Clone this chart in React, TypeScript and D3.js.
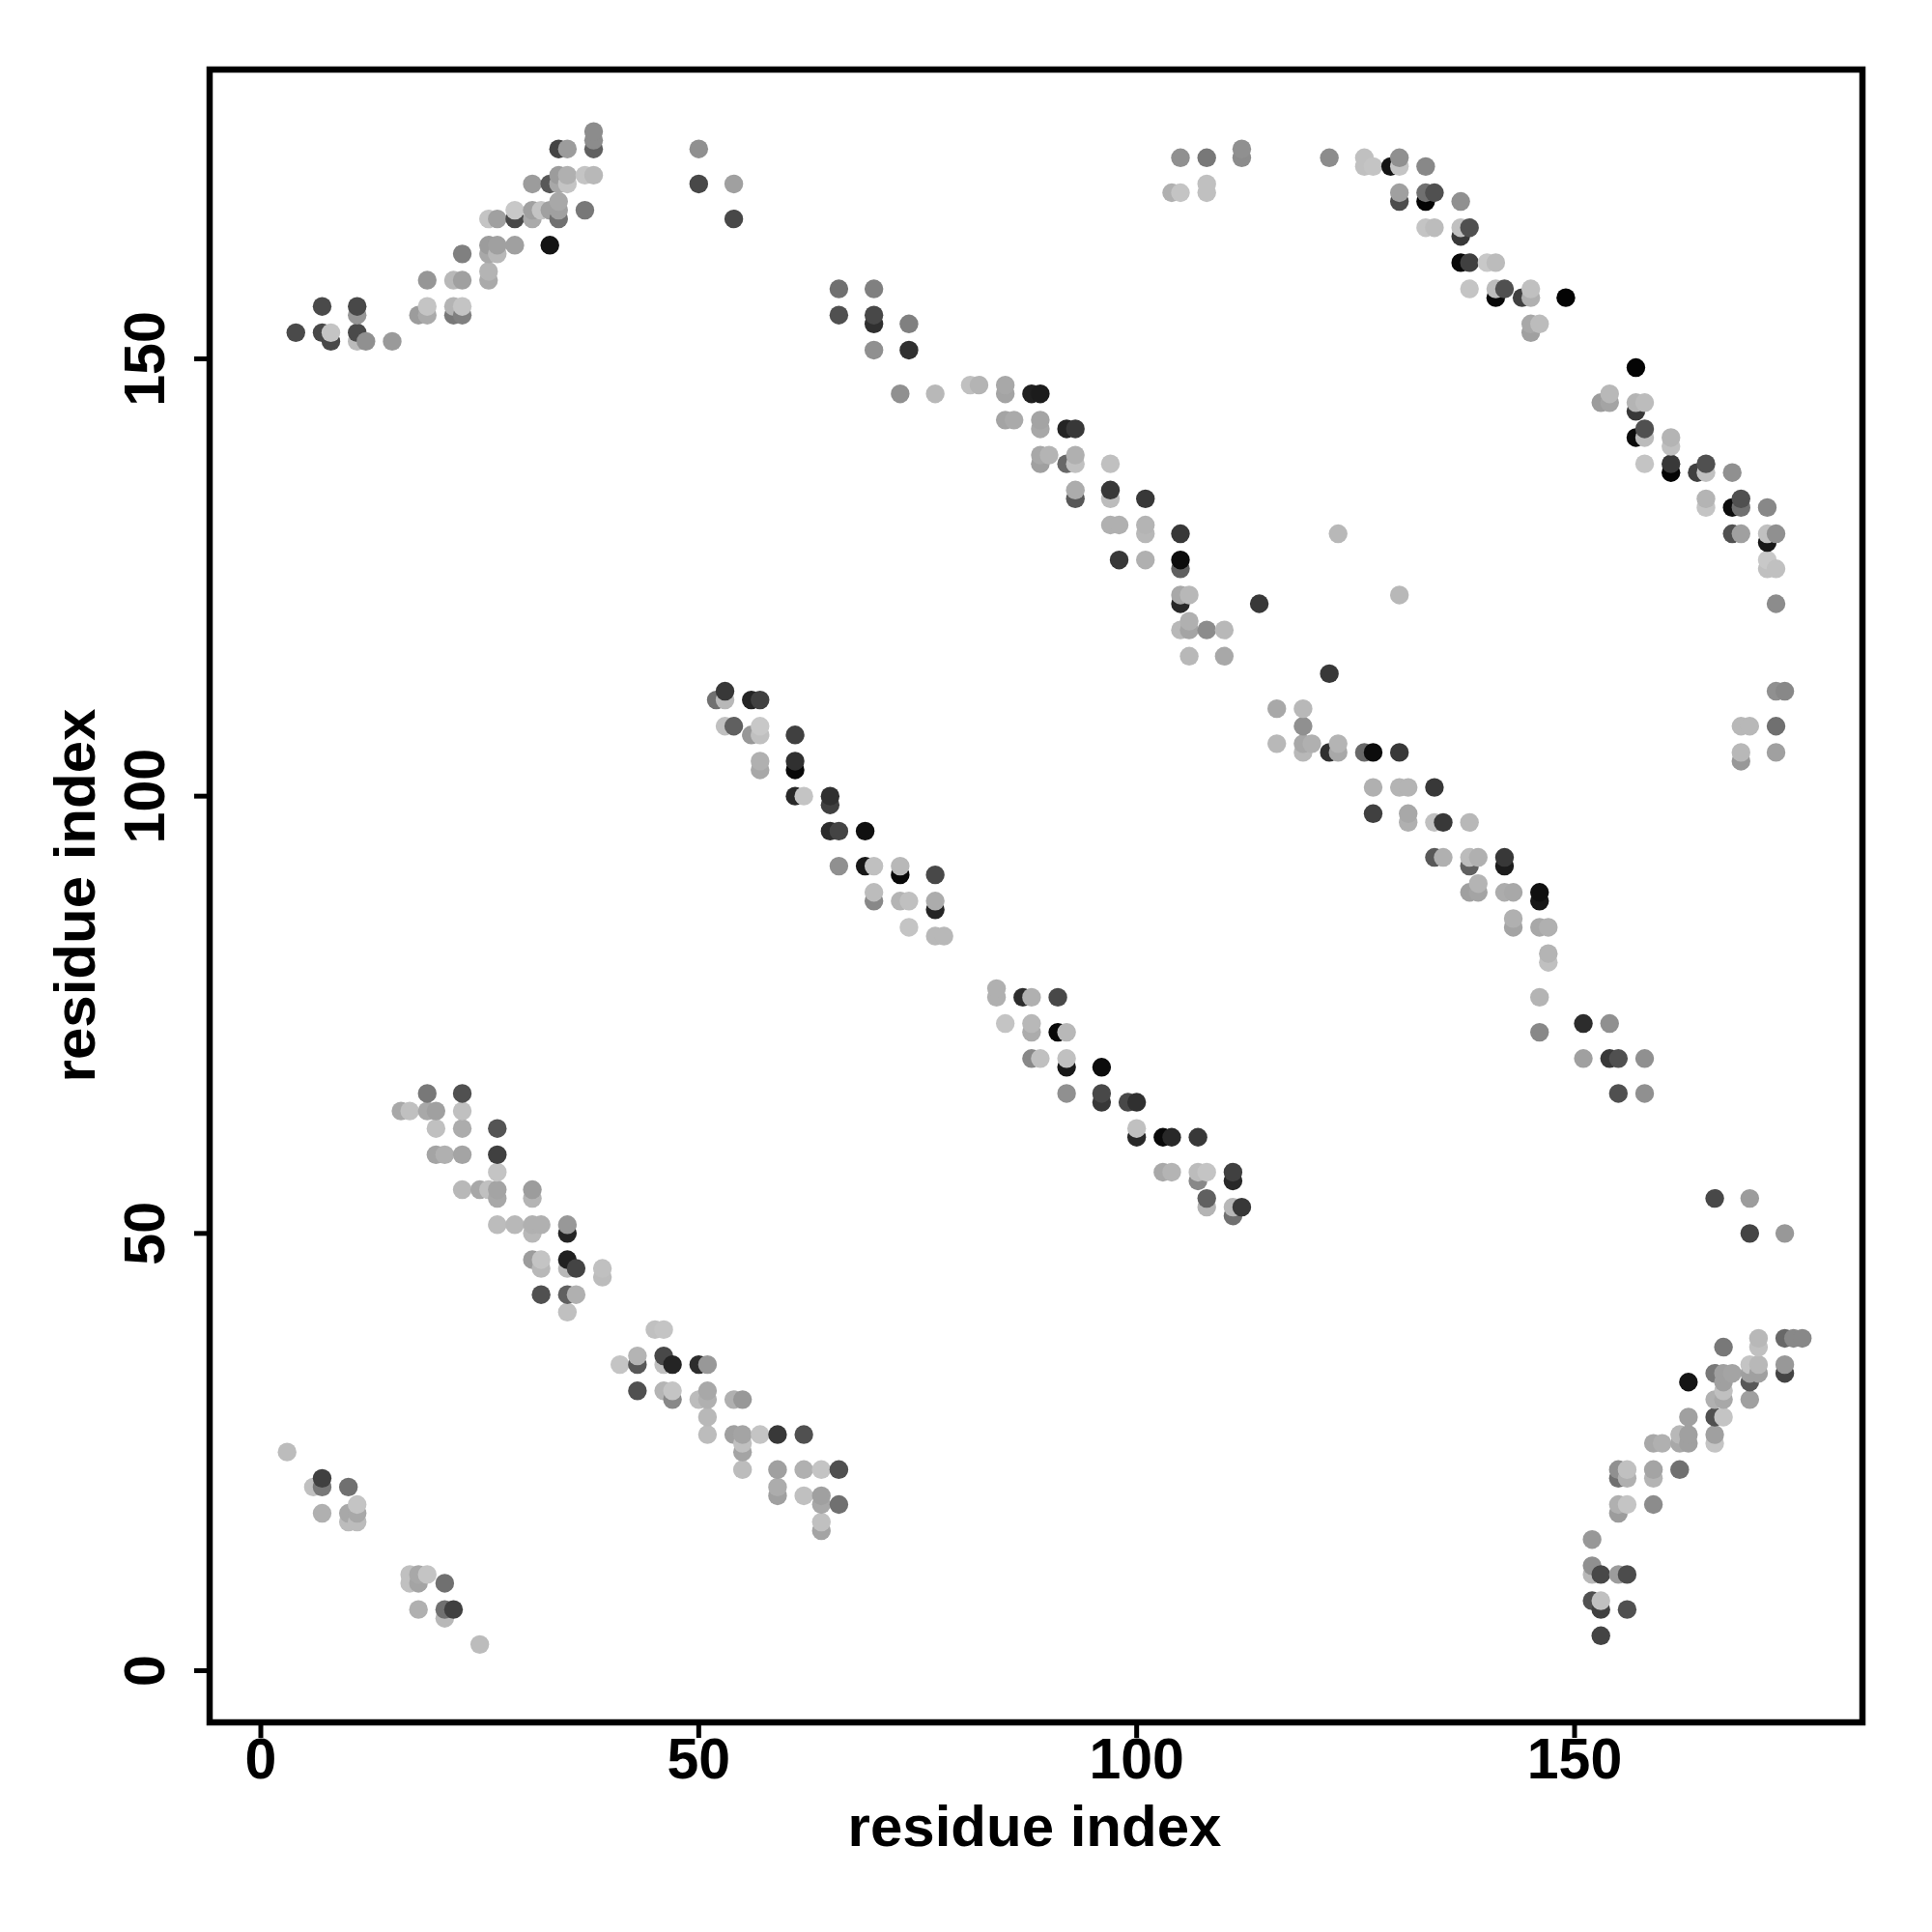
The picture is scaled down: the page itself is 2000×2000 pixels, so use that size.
import React from "react";
import * as d3 from "d3";

// Each contact: [residue i, residue j, grey level]
type Contact = [number, number, number];

const clusterTopLeft: Contact[] = [
  [4,153,0x4a],[7,156,0x4a],[7,153,0x48],[8,152,0x48],[8,153,0xc4],[11,156,0x48],[11,155,0x96],[11,153,0x4a],[11,152,0xbb],[12,152,0x90],[15,152,0x9a],
  [18,155,0x9c],[19,155,0xaa],[19,156,0xc4],[19,159,0x96],[22,159,0xb8],[23,159,0xa0],[22,156,0xb4],[23,156,0xc4],[22,155,0x78],[23,155,0x80],[23,162,0x80],
  [26,159,0xaa],[26,160,0xb4],[26,162,0xa8],[26,163,0x9c],[27,162,0xb8],[27,163,0xa0],[26,166,0xc4],[27,166,0xa0],[29,163,0xa0],[29,166,0x48],[29,167,0xc8],
  [31,167,0xa0],[31,166,0xaa],[32,167,0xc4],[31,170,0x9c],[33,163,0x14],[33,170,0x58],[33,167,0xa0],[34,166,0x70],[34,167,0xa0],[34,168,0xa8],[34,170,0xa8],[34,171,0x9c],
  [34,174,0x44],[35,174,0x9c],[35,171,0xb0],[35,170,0xc4],[37,167,0x78],[37,171,0xc4],[38,171,0xb8],[38,174,0x60],[38,175,0x8c],[38,176,0x8c],
];
const clusterTopMiddle: Contact[] = [
  [50,174,0x90],[50,170,0x48],[54,170,0xa0],[54,166,0x48],
  [66,158,0x70],[66,155,0x50],[70,158,0x80],[70,155,0x48],[70,154,0x30],[70,151,0x90],[74,154,0x80],[74,151,0x30],[73,146,0x90],[77,146,0xb8],
  [104,169,0xb0],[105,169,0xc4],[105,173,0x90],[108,173,0x78],[108,170,0xc0],[108,169,0xc0],[112,174,0x90],[112,173,0x8c],
];
const clusterCentralUpper: Contact[] = [
  [81,147,0xc0],[82,147,0xb4],[85,147,0xa8],[85,146,0xa4],[88,146,0x20],[89,146,0x1c],[85,143,0xa4],[86,143,0xaa],[89,143,0xa4],[89,142,0xa8],[92,142,0x24],[93,142,0x38],
  [89,138,0xa0],[89,139,0xa8],[90,139,0xb4],[92,138,0x68],[93,138,0xc0],[93,139,0xb0],[97,138,0xc0],[93,134,0x58],[93,135,0xac],[97,134,0xbc],[97,135,0x38],[101,134,0x38],
  [97,131,0xb0],[98,131,0xb0],[101,131,0xb4],[101,130,0xb8],[105,130,0x38],[98,127,0x38],[101,127,0xb0],[105,127,0x0c],[105,126,0x60],[105,123,0xa8],[106,123,0xb8],[105,122,0x28],
  [114,122,0x38],[105,119,0xb8],[106,119,0xa4],[106,120,0xb0],[108,119,0x8c],[110,119,0xb8],[106,116,0xb8],[110,116,0xa8],[123,130,0xb8],[130,123,0xb8],
];
const clusterTopRight: Contact[] = [
  [122,173,0x8c],[126,173,0xc0],[126,172,0xc0],[127,172,0xc4],[129,172,0x14],[130,172,0xc4],[130,173,0x90],[133,172,0x88],[130,168,0x4c],[130,169,0xa0],[133,168,0x04],[133,169,0x70],[134,169,0x50],
  [137,168,0x90],[133,165,0xc4],[134,165,0xbc],[137,165,0xc0],[137,164,0x38],[138,165,0x50],[137,161,0x08],[138,161,0x40],[140,161,0xc8],[141,161,0xbc],[138,158,0xc4],[141,158,0xbc],[141,157,0x08],[142,158,0x50],
  [144,157,0x40],[145,157,0xb0],[145,158,0xc0],[149,157,0x04],[145,153,0xa0],[145,154,0xa8],[146,154,0xbc],
  [157,149,0x04],[153,145,0x9c],[154,145,0xa4],[154,146,0xb8],[157,145,0xb4],[158,145,0xbc],[157,144,0x38],[157,141,0x0c],[158,141,0xbc],[158,142,0x50],[161,141,0xb4],[161,140,0xc0],
  [158,138,0xc4],[161,138,0x38],[161,137,0x04],[164,137,0x40],[165,137,0xc0],[165,138,0x50],[168,137,0x90],[165,134,0xb4],[165,133,0xc4],[168,133,0x0c],[169,133,0x70],[169,134,0x50],[172,133,0x88],
  [168,130,0x50],[169,130,0xa0],[172,130,0xc0],[172,129,0x18],[173,130,0x90],[172,127,0xc8],[172,126,0xc0],[173,126,0xc0],[173,122,0x8c],
  [173,112,0x90],[174,112,0x88],[173,108,0x70],[169,108,0xb8],[170,108,0xb8],[169,105,0xb8],[169,104,0x98],[173,105,0xa0],
];
const clusterMiddleLeft: Contact[] = [
  [52,111,0x70],[53,111,0xb8],[53,112,0x38],[56,111,0x24],[57,111,0x40],[53,108,0xc0],[54,108,0x60],[56,107,0x98],[57,107,0xc0],[57,108,0xc8],[61,107,0x40],[57,104,0xb0],[57,103,0xa8],[61,104,0x30],[61,103,0x08],
  [61,100,0x28],[62,100,0xc4],[65,100,0x30],[65,99,0x40],[65,96,0x2c],[66,96,0x44],[69,96,0x10],[66,92,0x90],[69,92,0x18],[70,92,0xc0],[73,92,0xb8],[73,91,0x08],[77,91,0x48],
  [70,89,0xbc],[70,88,0x88],[73,88,0xb4],[74,88,0xc0],[77,88,0xac],[77,87,0x24],[74,85,0xc4],[77,84,0xb8],[78,84,0xb8],
];
const clusterMiddleRight: Contact[] = [
  [122,114,0x38],[116,110,0xa8],[119,110,0xb8],[119,108,0x90],[116,106,0xb8],[119,106,0xa8],[120,106,0xb0],[119,105,0xb8],[122,105,0x30],[123,105,0xa8],[123,106,0xb4],[126,105,0x68],[127,105,0x0c],[130,105,0x38],
  [127,101,0xb0],[130,101,0xb4],[131,101,0xb4],[134,101,0x38],[127,98,0x40],[131,98,0xa8],[131,97,0xb0],[134,97,0xc0],[135,97,0x38],[138,97,0xb8],[134,93,0x58],[135,93,0xb0],[138,93,0xbc],[139,93,0xb0],[138,92,0x60],
  [142,93,0x38],[142,92,0x1c],[138,89,0xa0],[139,89,0xa4],[139,90,0xb4],[142,89,0xac],[143,89,0xa8],[143,86,0xb0],[143,85,0xa4],[146,89,0x10],[146,88,0x18],[146,85,0xa8],[147,85,0xb0],[147,82,0xb4],[147,81,0xc0],
  [146,77,0xb4],[146,73,0x88],[151,74,0x2c],[154,74,0x90],[151,70,0xa0],[154,70,0x38],[155,70,0x50],[155,66,0x50],[158,70,0x90],[158,66,0x90],
];
const clusterCentralLower: Contact[] = [
  [84,78,0xb0],[84,77,0xb0],[87,77,0x2c],[88,77,0xb0],[91,77,0x48],[85,74,0xc4],[88,74,0xb8],[88,73,0xac],[91,73,0x08],[92,73,0xb8],[88,70,0x88],[89,70,0xc0],[92,70,0xc0],[92,69,0x18],[96,69,0x0c],
  [92,66,0x90],[96,66,0x48],[96,65,0x38],[99,65,0x48],[100,65,0x30],[100,62,0xc0],[100,61,0x28],[103,61,0x08],[104,61,0x28],[107,61,0x38],[103,57,0xa8],[104,57,0xb4],[107,57,0xbc],[108,57,0xc4],[107,56,0x88],
  [111,57,0x40],[111,56,0x28],[108,54,0x60],[108,53,0xb4],[111,53,0xb8],[111,52,0x70],[112,53,0x38],
];
const clusterLowerLeft: Contact[] = [
  [19,66,0x78],[23,66,0x50],[16,64,0xa8],[17,64,0xc0],[19,64,0xa8],[20,64,0xa0],[23,64,0xc0],[20,62,0xc0],[23,62,0xac],[27,62,0x54],[20,59,0xa4],[21,59,0xb0],[23,59,0xa4],[27,59,0x40],[27,57,0xc4],
  [23,55,0xb8],[25,55,0xa8],[26,55,0xc0],[27,55,0xa4],[27,54,0xa8],[31,55,0x9c],[31,54,0xb4],[27,51,0xbc],[29,51,0xb8],[31,51,0xb0],[32,51,0xb0],[31,50,0xb8],[35,51,0x98],[35,50,0x24],
  [31,47,0x9c],[32,47,0xc4],[32,46,0xb8],[35,47,0x20],[35,46,0xb8],[36,46,0x44],[39,46,0xc0],[39,45,0xbc],[32,43,0x50],[35,43,0x60],[36,43,0xb0],[35,41,0xc0],
];
const clusterLowerMiddle: Contact[] = [
  [45,39,0xc0],[46,39,0xc4],[41,35,0xc4],[43,36,0xb4],[43,35,0x58],[46,36,0x48],[46,35,0xc0],[47,35,0x24],[50,35,0x2c],[51,35,0x98],[43,32,0x50],[46,32,0xb4],[47,32,0xc4],[47,31,0x88],[50,31,0xbc],
  [51,32,0xa8],[51,31,0xb0],[51,29,0xb8],[51,27,0xbc],[54,31,0xb0],[55,31,0x98],[54,27,0xa0],[55,27,0xa4],[55,26,0xc0],[55,25,0xa4],[57,27,0xc4],[59,27,0x38],[62,27,0x50],
  [55,23,0xbc],[59,23,0xa0],[62,23,0xb0],[64,23,0xc4],[66,23,0x50],[59,21,0xac],[59,20,0xa0],[62,20,0xc0],[64,20,0xa0],[64,19,0xa8],[66,19,0x70],[64,17,0xc0],[64,16,0xa4],
];
const clusterBottomLeft: Contact[] = [
  [3,25,0xbc],[6,21,0xc0],[7,21,0x78],[7,22,0x40],[10,21,0x70],[7,18,0xb0],[10,18,0xa8],[11,18,0xa8],[11,19,0xc4],[10,17,0xbc],[11,17,0xbc],
  [17,11,0xc0],[17,10,0xc0],[18,11,0xa8],[18,10,0xa4],[19,11,0xc4],[21,10,0x70],[18,7,0xb0],[21,7,0x70],[21,6,0xb8],[22,7,0x40],[25,3,0xbc],
];
const clusterBottomRight: Contact[] = [
  [166,54,0x48],[170,54,0x9c],[170,50,0x44],[174,50,0x98],[171,38,0xb8],[171,37,0xc0],[174,38,0x68],[175,38,0x88],[176,38,0x88],[167,37,0x78],[174,35,0x98],[174,34,0x44],[170,35,0xc4],[171,35,0xb8],
  [170,34,0xa0],[171,34,0xa0],[170,33,0x58],[166,34,0x78],[167,34,0xa0],[168,34,0xa4],[167,33,0xa0],[163,33,0x14],[167,32,0xc0],[166,31,0xb0],[167,31,0xa8],[170,31,0xa0],[163,29,0xa0],[166,29,0x50],[167,29,0xc4],
  [166,27,0xa0],[166,26,0xc4],[162,27,0xb8],[163,27,0xa0],[163,26,0xa0],[162,26,0xa8],[159,26,0xa8],[160,26,0xb0],
  [155,23,0x90],[156,23,0xc0],[155,22,0x70],[156,22,0xb0],[159,23,0xa4],[159,22,0xb4],[162,23,0x70],[155,19,0xb0],[156,19,0xc4],[155,18,0x9c],[159,19,0x8c],
  [152,15,0x98],[152,12,0x90],[152,11,0xb8],[153,11,0x48],[155,11,0x9c],[156,11,0x4c],[152,8,0x50],[153,8,0xc0],[153,7,0x40],[156,7,0x50],[153,4,0x44],
];

const xTicks = [0, 50, 100, 150];
const yTicks = [0, 50, 100, 150];
const xLabel = "residue index";
const yLabel = "residue index";

const contacts: Contact[] = [
  ...clusterTopLeft, ...clusterTopMiddle, ...clusterCentralUpper, ...clusterTopRight,
  ...clusterMiddleLeft, ...clusterMiddleRight, ...clusterCentralLower, ...clusterLowerLeft,
  ...clusterLowerMiddle, ...clusterBottomLeft, ...clusterBottomRight,
].sort((a, b) => d3.ascending(a[0], b[0]) || d3.ascending(a[1], b[1]));

const box = { left: 217, right: 1928, top: 72, bottom: 1783 };
const x = d3.scaleLinear().domain([0, 150]).range([270, 1630]);
const y = d3.scaleLinear().domain([0, 150]).range([1729.5, 371.5]);
const font = "'Liberation Sans', Arial, sans-serif";
const tickFont = 59;
const titleFont = 60;
const lw = 6.5;
const tickLen = 16;

export default function App() {
  return (
    <svg
      width={2000}
      height={2000}
      viewBox="0 0 2000 2000"
      style={{ position: "absolute", left: 0, top: 0, background: "#fff" }}
      fontFamily={font}
      fontWeight="bold"
    >
      <g>
        {contacts.map(([i, j, g], k) => (
          <circle key={k} cx={x(i)} cy={y(j)} r={9.7} fill={d3.rgb(g, g, g).formatHex()} />
        ))}
      </g>
      <rect
        x={box.left}
        y={box.top}
        width={box.right - box.left}
        height={box.bottom - box.top}
        fill="none"
        stroke="#000"
        strokeWidth={lw}
      />
      {xTicks.map((t) => (
        <g key={t}>
          <line x1={x(t)} x2={x(t)} y1={box.bottom} y2={box.bottom + tickLen} stroke="#000" strokeWidth={lw - 1.5} />
          <text x={x(t)} y={1841} textAnchor="middle" fontSize={tickFont}>{t}</text>
        </g>
      ))}
      {yTicks.map((t) => (
        <g key={t}>
          <line x1={box.left} x2={box.left - tickLen} y1={y(t)} y2={y(t)} stroke="#000" strokeWidth={lw - 1.5} />
          <text transform={`translate(170,${y(t)}) rotate(-90)`} textAnchor="middle" fontSize={tickFont}>{t}</text>
        </g>
      ))}
      <text x={1071} y={1911} textAnchor="middle" fontSize={titleFont}>{xLabel}</text>
      <text transform="translate(98,927) rotate(-90)" textAnchor="middle" fontSize={titleFont}>{yLabel}</text>
    </svg>
  );
}
